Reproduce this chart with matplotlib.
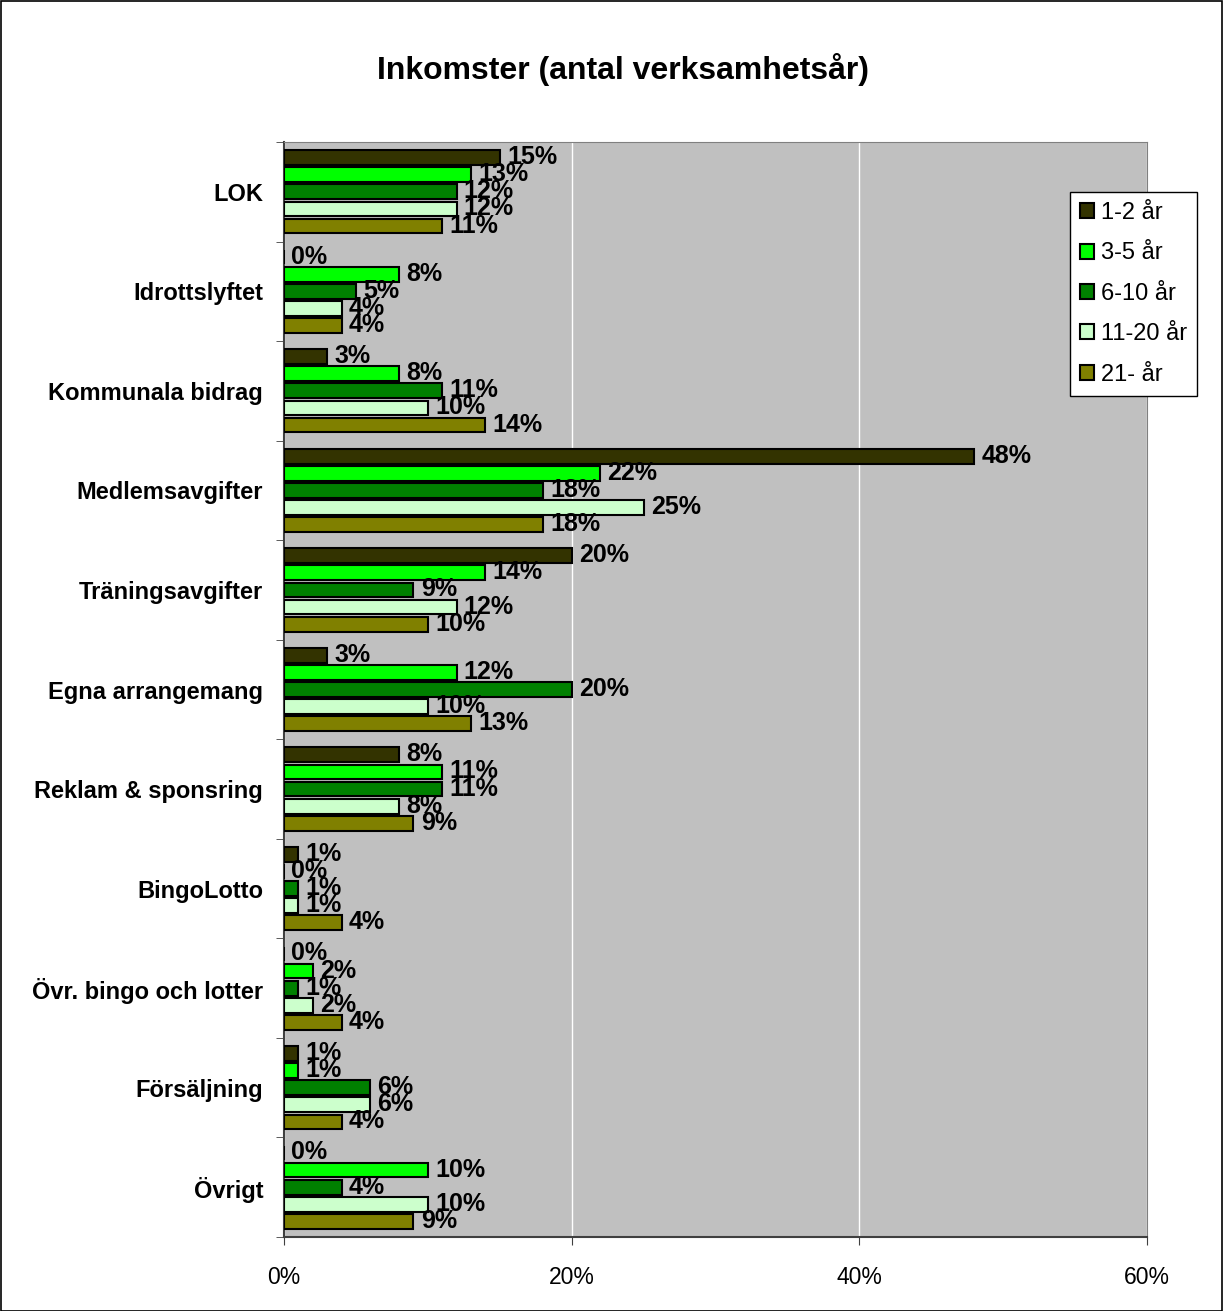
import matplotlib.pyplot as plt
import numpy as np

plt.rcParams['font.family'] = ['Liberation Sans', 'DejaVu Sans']

categories = ['LOK', 'Idrottslyftet', 'Kommunala bidrag', 'Medlemsavgifter',
              'Träningsavgifter', 'Egna arrangemang', 'Reklam & sponsring',
              'BingoLotto', 'Övr. bingo och lotter', 'Försäljning', 'Övrigt']
series = ['1-2 år', '3-5 år', '6-10 år', '11-20 år', '21- år']
colors = ['#333300', '#00FF00', '#008000', '#CCFFCC', '#808000']

v_1_2   = [15, 0, 3, 48, 20, 3, 8, 1, 0, 1, 0]
v_3_5   = [13, 8, 8, 22, 14, 12, 11, 0, 2, 1, 10]
v_6_10  = [12, 5, 11, 18, 9, 20, 11, 1, 1, 6, 4]
v_11_20 = [12, 4, 10, 25, 12, 10, 8, 1, 2, 6, 10]
v_21    = [11, 4, 14, 18, 10, 13, 9, 4, 4, 4, 9]
values = [v_1_2, v_3_5, v_6_10, v_11_20, v_21]

W, H = 1223, 1311
fig = plt.figure(figsize=(W/100, H/100), dpi=100)
ax = fig.add_axes([284/W, 1-1237/H, (1147-284)/W, (1237-142)/H])
ax.set_facecolor('#C0C0C0')

pitch = 0.172
bh = 0.148
y = np.arange(len(categories))
for i, (vals, c, name) in enumerate(zip(values, colors, series)):
    pos = y + (i - 2) * pitch
    bars = ax.barh(pos, vals, height=bh, color=c, edgecolor='black',
                   linewidth=1.5, label=name, zorder=3)
    for b, v in zip(bars, vals):
        ax.text(v + 0.5, b.get_y() + b.get_height()/2 - 0.005, f'{v}%',
                ha='left', va='center', fontsize=18, fontweight='bold', zorder=4)

ax.set_xlim(0, 60)
ax.set_ylim(len(categories) - 0.5, -0.5)
ax.set_xticks([0, 20, 40, 60])
ax.set_xticklabels(['0%', '20%', '40%', '60%'], fontsize=16.5)
ax.xaxis.grid(True, color='white', linewidth=1, zorder=0)
ax.set_axisbelow(True)
ax.set_yticks(y)
ax.set_yticklabels(categories, fontsize=17, fontweight='bold')
ax.tick_params(axis='y', length=0, pad=15)
ax.set_yticks(np.arange(-0.5, len(categories)), minor=True)
ax.tick_params(axis='y', which='minor', length=6, direction='out', color='#404040')
ax.tick_params(axis='x', length=6, direction='out', pad=15, color='#404040')
for s in ['top', 'right']:
    ax.spines[s].set_color('#808080')
for s in ['left', 'bottom']:
    ax.spines[s].set_color('#404040')
    ax.spines[s].set_linewidth(1.5)

fig.suptitle('Inkomster (antal verksamhetsår)', fontsize=23, fontweight='bold',
             x=623/W, y=1-70/H, va='center')

leg = fig.legend(loc='upper left', bbox_to_anchor=(1070/W, 1-192/H),
                 fontsize=17, frameon=True, fancybox=False, handlelength=0.6,
                 handleheight=0.6, handletextpad=0.3, labelspacing=0.78,
                 borderpad=0.42, borderaxespad=0)
leg.get_frame().set_edgecolor('black')
leg.get_frame().set_linewidth(1)
leg.get_frame().set_facecolor('white')
leg.get_frame().set_alpha(1)

fig.patches.append(plt.Rectangle((0.5/W, 0.5/H), 1-1.5/W, 1-1.5/H,
                                 transform=fig.transFigure, fill=False,
                                 edgecolor='black', linewidth=1.2))

fig.savefig('out.png', dpi=100)
